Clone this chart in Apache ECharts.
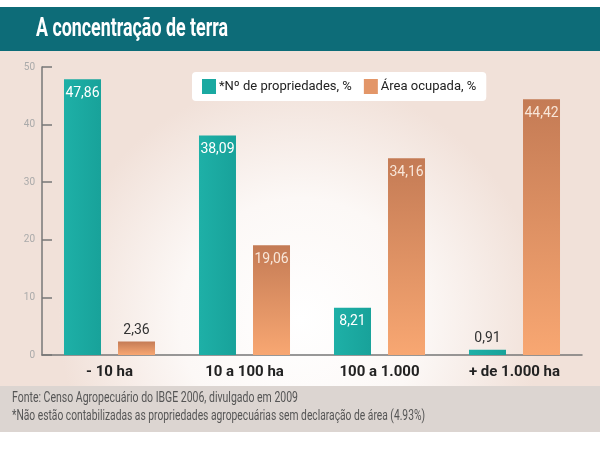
<!DOCTYPE html>
<html lang="pt">

<head>
    <meta charset="UTF-8">
    <title>A concentração de terra</title>
    <script src="https://cdn.jsdelivr.net/npm/echarts/dist/echarts.min.js"></script>
    <style>
        html, body { margin: 0; padding: 0; background: #fff; }
        #chart { width: 600px; height: 450px; }
    </style>
</head>

<body>
    <div id="chart"></div>

    <script>
        // dados
        const categorias = ['- 10 ha', '10 a 100 ha', '100 a 1.000', '+ de 1.000 ha'];
        const propriedades = [47.86, 38.09, 8.21, 0.91];
        const area = [2.36, 19.06, 34.16, 44.42];
        const nomes = ['*Nº de propriedades, %', 'Área ocupada, %'];
        const titulo = 'A concentração de terra';
        const fonte = 'Fonte: Censo Agropecuário do IBGE 2006, divulgado em 2009';
        const nota = '*Não estão contabilizadas as propriedades agropecuárias sem declaração de área (4.93%)';

        const familia = 'Roboto, "Liberation Sans", sans-serif';
        const fmt = v => v.toFixed(2).replace('.', ',');

        // a fonte original é condensada: estreita o texto até a largura medida no original
        const ctx = document.createElement('canvas').getContext('2d');
        function escala(texto, fonteCss, largura) {
            ctx.font = fonteCss;
            return largura / ctx.measureText(texto).width;
        }

        // valores pequenos ficam com o rótulo por cima da barra
        function comRotulos(values, corDentro) {
            return values.map(v => ({
                value: v,
                label: v < 5
                    ? { position: 'top', color: '#333', distance: 4 }
                    : { position: 'insideTop', color: corDentro, distance: 7 }
            }));
        }

        const chart = echarts.init(document.getElementById('chart'));

        const option = {
            backgroundColor: '#ffffff',
            animation: false,
            textStyle: { fontFamily: familia },
            graphic: [
                {
                    type: 'rect', z: -10, silent: true,
                    shape: { x: 0, y: 51, width: 600, height: 335 },
                    style: {
                        fill: new echarts.graphic.RadialGradient(0.5, 0.8, 0.72, [
                            { offset: 0, color: '#ffffff' },
                            { offset: 0.5, color: '#fcf8f6' },
                            { offset: 1, color: '#f1e1d9' }
                        ])
                    }
                },
                {
                    type: 'rect', z: -10, silent: true,
                    shape: { x: 0, y: 7, width: 600, height: 44 },
                    style: { fill: '#0d6c78' }
                },
                {
                    type: 'rect', z: -10, silent: true,
                    shape: { x: 0, y: 386, width: 600, height: 46 },
                    style: { fill: '#dcd5d1' }
                },
                {
                    type: 'text', x: 36, y: 17, silent: true,
                    scaleX: escala(titulo, 'bold 25px Roboto', 192),
                    style: { text: titulo, fill: '#ffffff', fontSize: 25, fontWeight: 'bold', fontFamily: familia }
                },
                {
                    type: 'text', x: 12, y: 391, silent: true,
                    scaleX: escala(fonte, '14px Roboto', 286),
                    style: { text: fonte, fill: '#555', fontSize: 14, fontFamily: familia }
                },
                {
                    type: 'text', x: 12, y: 409, silent: true,
                    scaleX: escala(nota, '14px Roboto', 413),
                    style: { text: nota, fill: '#555', fontSize: 14, fontFamily: familia }
                }
            ],
            legend: {
                left: 192,
                top: 72,
                padding: [7, 10, 7, 10],
                backgroundColor: '#ffffff',
                borderRadius: 4,
                itemWidth: 14,
                itemHeight: 15,
                itemGap: 12,
                textStyle: { color: '#222', fontSize: 13, fontFamily: familia, padding: [0, 0, 0, -2] },
                data: [
                    { name: nomes[0], icon: 'rect', itemStyle: { color: '#1aa9a1' } },
                    { name: nomes[1], icon: 'rect', itemStyle: { color: '#e39668' } }
                ]
            },
            grid: { left: 42, right: 18, top: 67, bottom: 95 },
            xAxis: {
                type: 'category',
                data: categorias,
                axisLine: { lineStyle: { color: '#777', width: 1.5 } },
                axisTick: { inside: true, length: 6, lineStyle: { color: '#777' } },
                axisLabel: { interval: 0, color: '#222', fontSize: 15, fontWeight: 'bold', margin: 10, fontFamily: familia }
            },
            yAxis: {
                type: 'value',
                min: 0,
                max: 50,
                interval: 10,
                axisLine: { show: true, lineStyle: { color: '#777', width: 1.5 } },
                axisTick: { show: true, inside: true, length: 10, lineStyle: { color: '#777', width: 1.5 } },
                axisLabel: { color: '#aaa', fontSize: 10, margin: 7 },
                splitLine: { show: false }
            },
            series: [
                {
                    name: nomes[0],
                    type: 'bar',
                    barWidth: 37,
                    barGap: '46%',
                    itemStyle: {
                        color: new echarts.graphic.LinearGradient(0, 0, 1, 0, [
                            { offset: 0, color: '#1eb0a7' },
                            { offset: 1, color: '#18a29a' }
                        ])
                    },
                    label: {
                        show: true,
                        fontSize: 14,
                        fontFamily: familia,
                        formatter: p => fmt(p.value)
                    },
                    data: comRotulos(propriedades, '#ffffff')
                },
                {
                    name: nomes[1],
                    type: 'bar',
                    barWidth: 37,
                    itemStyle: {
                        color: new echarts.graphic.LinearGradient(0, 0, 0, 1, [
                            { offset: 0, color: '#c47b55' },
                            { offset: 1, color: '#f8a772' }
                        ])
                    },
                    label: {
                        show: true,
                        fontSize: 14,
                        fontFamily: familia,
                        formatter: p => fmt(p.value)
                    },
                    data: comRotulos(area, '#f8e6d8')
                }
            ]
        };

        chart.setOption(option);
    </script>
</body>

</html>
